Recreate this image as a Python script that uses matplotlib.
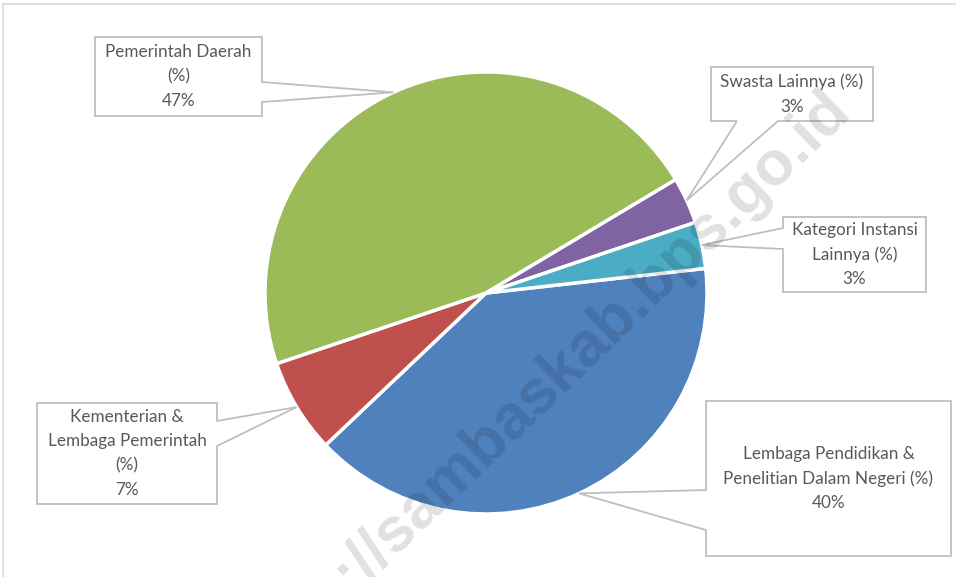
import numpy as np
import matplotlib.pyplot as plt
from matplotlib.patches import Rectangle, Polygon

# data, clockwise from the right-hand side of the pie
labels = ['Lembaga Pendidikan &\nPenelitian Dalam Negeri (%)',
          'Kementerian &\nLembaga Pemerintah\n(%)',
          'Pemerintah Daerah\n(%)',
          'Swasta Lainnya (%)',
          'Kategori Instansi\nLainnya (%)']
values = [39.7, 6.9, 46.6, 3.4, 3.4]
colors = ['#4F81BD', '#C0504D', '#9BBB59', '#8064A2', '#4BACC6']

W, H = 956, 577
fig = plt.figure(figsize=(W / 100, H / 100), dpi=100)
ax = fig.add_axes([0, 0, 1, 1])

cx, cy, r = 486, H - 293, 221
start = 6.4
wedges, _ = ax.pie(values, colors=colors, startangle=start, counterclock=False,
                   center=(cx, cy), radius=r, frame=True,
                   wedgeprops=dict(edgecolor='white', linewidth=2.5))
ax.set_xlim(0, W)
ax.set_ylim(0, H)
ax.axis('off')

# outer chart border (only top/left visible in the crop)
ax.add_patch(Rectangle((3, -20), W + 40, H - 4 + 20, fill=False,
                       edgecolor='#d9d9d9', linewidth=1.2))

# callout boxes in image pixel coords: (x0, y0, x1, y1), pointer side, pointer base
boxes = [
    ((706, 401, 951, 556), 'left', (490, 530)),
    ((37, 403, 217, 504), 'right', (421, 446)),
    ((95, 37, 262, 116), 'right', (82, 102)),
    ((711, 67, 873, 121), 'bottom', (737, 778)),
    ((783, 217, 926, 292), 'left', (228, 249)),
]

line_c = '#bfbfbf'
txt_c = '#595959'
for w, lab, v, (bx, side, base) in zip(wedges, labels, values, boxes):
    x0, y0, x1, y1 = bx
    mid = np.deg2rad((w.theta1 + w.theta2) / 2)
    tip = (cx + r * np.cos(mid), cy + r * np.sin(mid))
    X0, X1 = x0, x1
    Y0, Y1 = H - y1, H - y0
    if side == 'left':
        b0, b1 = H - base[0], H - base[1]
        pts = [(X0, Y1), (X1, Y1), (X1, Y0), (X0, Y0), (X0, b1), tip, (X0, b0)]
    elif side == 'right':
        b0, b1 = H - base[0], H - base[1]
        pts = [(X0, Y1), (X1, Y1), (X1, b0), tip, (X1, b1), (X1, Y0), (X0, Y0)]
    else:
        pts = [(X0, Y1), (X1, Y1), (X1, Y0), (base[1], Y0), tip, (base[0], Y0), (X0, Y0)]
    ax.add_patch(Polygon(pts, closed=True, facecolor='white', edgecolor=line_c,
                         linewidth=1.3, zorder=3))
    ax.text((X0 + X1) / 2, (Y0 + Y1) / 2, f'{lab}\n{v:.0f}%', ha='center', va='center',
            fontsize=12.3, color=txt_c, family='Lato', linespacing=1.65, zorder=4)

# watermark
ax.text(852, H - 112, 'https://sambaskab.bps.go.id', rotation=44, rotation_mode='anchor',
        ha='right', va='baseline', fontsize=45, fontweight='bold', family='Liberation Sans',
        color='black', alpha=0.12, zorder=5)

fig.savefig('out.png', dpi=100)
